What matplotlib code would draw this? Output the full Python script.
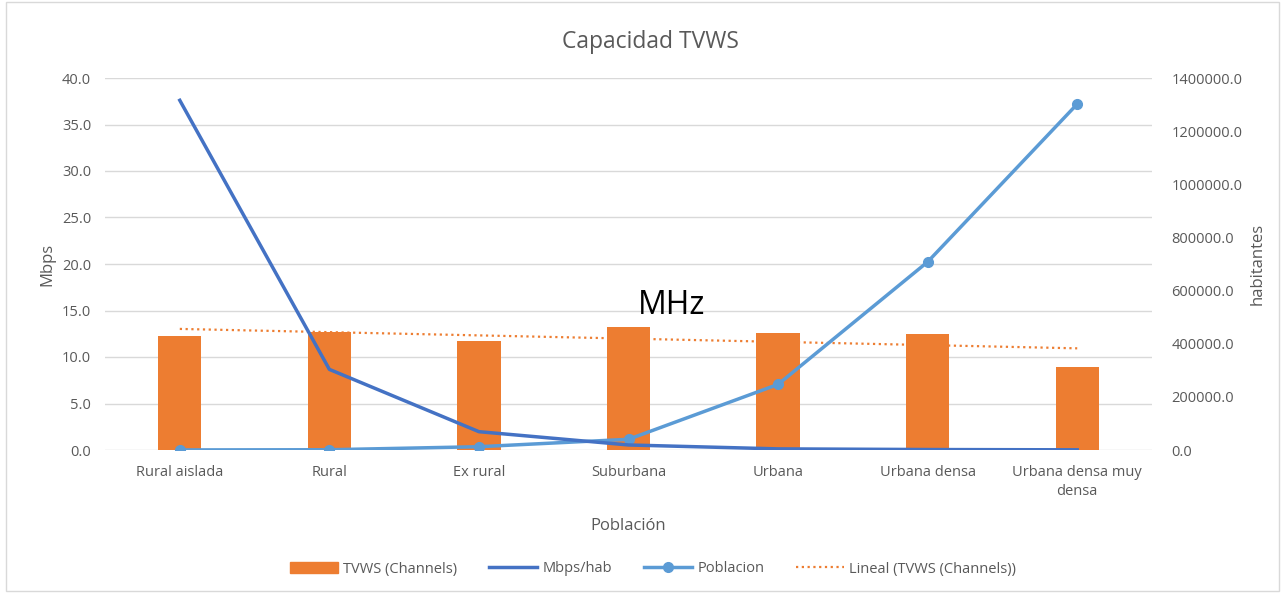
import matplotlib
matplotlib.use("Agg")
import matplotlib.pyplot as plt
import numpy as np
from matplotlib.patches import Rectangle
from matplotlib.lines import Line2D

categories = ["Rural aislada", "Rural", "Ex rural", "Suburbana", "Urbana",
              "Urbana densa", "Urbana densa muy\ndensa"]
tvws_channels = [12.26, 12.7, 11.75, 13.2, 12.55, 12.47, 8.9]
mbps_hab = [37.6, 8.67, 1.97, 0.54, 0.12, 0.05, 0.02]
poblacion = [300, 1000, 12400, 40300, 247000, 708000, 1302000]
left_ticks = [0, 5, 10, 15, 20, 25, 30, 35, 40]
right_ticks = [0, 200000, 400000, 600000, 800000, 1000000, 1200000, 1400000]

ORANGE = "#ED7D31"
DBLUE = "#4472C4"
LBLUE = "#5B9BD5"
GRID = "#D9D9D9"
TXT = "#595959"
FONT = ["Open Sans", "DejaVu Sans"]
plt.rcParams['font.family'] = FONT

fig = plt.figure(figsize=(12.85, 5.93), dpi=100)
ax = fig.add_axes([105/1285, (593-450)/593, (1152-105)/1285, (450-78)/593])
ax2 = ax.twinx()

x = np.arange(len(categories))
ax.bar(x, tvws_channels, width=0.29, color=ORANGE, zorder=2)
coef = np.polyfit(x, tvws_channels, 1)
trend = np.polyval(coef, x)

ax.set_xlim(-0.5, len(categories) - 0.5)
ax.set_ylim(0, 40)
ax.set_yticks(left_ticks)
ax.set_yticklabels([f"{v:.1f}" for v in left_ticks])
ax2.set_ylim(0, 1400000)
ax2.set_yticks(right_ticks)
ax2.set_yticklabels([f"{v:.1f}" for v in right_ticks])

ax.grid(axis='y', color=GRID, linewidth=1, zorder=0)
ax.set_axisbelow(True)
for a in (ax, ax2):
    for s in a.spines.values():
        s.set_visible(False)
    a.tick_params(length=0, colors=TXT, labelsize=10.5)
ax.tick_params(axis='y', pad=10)
ax2.tick_params(axis='y', pad=14)
ax.set_xticks(x)
ax.set_xticklabels(categories, fontsize=10.5, color=TXT, linespacing=1.3)
ax.tick_params(axis='x', pad=11)

ax2.plot(x, poblacion, color=LBLUE, lw=2.5, marker='o', markersize=7, zorder=3)
scale = 1400000 / 40
ax2.plot(x, np.array(mbps_hab) * scale, color=DBLUE, lw=2.5, zorder=4)
ax2.plot(x, trend * scale, color=ORANGE, lw=1.6, linestyle=(0, (1, 1.6)), zorder=2)

ax.set_ylabel("Mbps", color=TXT, fontsize=12, labelpad=5)
ax2.set_ylabel("habitantes", color=TXT, fontsize=12, labelpad=5)
ax.set_xlabel("Población", color=TXT, fontsize=12, labelpad=14)

fig.text(650/1285, 1 - 42/593, "Capacidad TVWS", ha='center', va='center',
         fontsize=16.5, color=TXT)
fig.text(672/1285, 1 - 305/593, "MHz", ha='center', va='center',
         fontsize=23, color='black')

handles = [Rectangle((0, 0), 1, 1, color=ORANGE),
           Line2D([], [], color=DBLUE, lw=2.5),
           Line2D([], [], color=LBLUE, lw=2.5, marker='o', markersize=7),
           Line2D([], [], color=ORANGE, lw=1.6, linestyle=(0, (1, 1.6)))]
labels = ["TVWS (Channels)", "Mbps/hab", "Poblacion", "Lineal (TVWS (Channels))"]
leg = fig.legend(handles, labels, loc='center', bbox_to_anchor=(653/1285, 1 - 569/593),
                 ncol=4, frameon=False, fontsize=10.5, handlelength=3.3,
                 columnspacing=2.2, handletextpad=0.35)
for t in leg.get_texts():
    t.set_color(TXT)

fig.patches.append(Rectangle((6/1285, 0.003), 1 - 12/1285, 0.994, transform=fig.transFigure,
                             fill=False, edgecolor="#D9D9D9", lw=1))

fig.savefig("out.png", dpi=100)
